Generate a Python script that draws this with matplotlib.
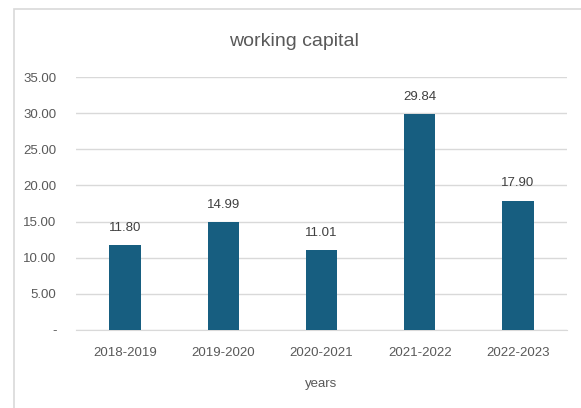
import matplotlib.pyplot as plt
from matplotlib.patches import Rectangle

years = ['2018-2019', '2019-2020', '2020-2021', '2021-2022', '2022-2023']
capital = [11.80, 14.99, 11.01, 29.84, 17.90]

plt.rcParams['font.family'] = ['Liberation Sans Narrow', 'Liberation Sans', 'DejaVu Sans']

fig = plt.figure(figsize=(5.81, 4.08), dpi=100)
ax = fig.add_axes([76 / 581, 1 - 330 / 408, (567 - 76) / 581, (330 - 77) / 408])

# chart frame, runs off the right and bottom edges like the screenshot
fig.patches.append(Rectangle((14 / 581, -0.1), 1.0, 1 - 9 / 408 + 0.1,
                             transform=fig.transFigure, fill=False,
                             edgecolor='#d9d9d9', linewidth=1.2))

x = range(len(years))
bars = ax.bar(x, capital, width=0.32, color='#175e80', zorder=3)
for b, v in zip(bars, capital):
    ax.annotate(f'{v:.2f}', (b.get_x() + b.get_width() / 2, v),
                xytext=(0, 8), textcoords='offset points',
                ha='center', va='bottom', fontsize=9.5, color='#404040')

ax.set_xlim(-0.5, 4.5)
ax.set_ylim(0, 35)
ax.set_yticks(range(0, 36, 5))
ax.set_yticklabels(['-' if t == 0 else f'{t:.2f}' for t in range(0, 36, 5)])
ax.set_xticks(list(x))
ax.set_xticklabels(years)
ax.tick_params(length=0, labelsize=9.5, labelcolor='#595959')
ax.tick_params(axis='x', pad=12)
ax.tick_params(axis='y', pad=14)
ax.grid(axis='y', color='#d9d9d9', linewidth=1, zorder=0)
for s in ['top', 'right', 'left']:
    ax.spines[s].set_visible(False)
ax.spines['bottom'].set_color('#d9d9d9')

fig.text(294 / 581, 1 - 42 / 408, 'working capital', fontsize=14,
         color='#595959', ha='center', va='center')
ax.set_xlabel('years', fontsize=9.5, color='#595959', labelpad=14)

fig.savefig('out.png', dpi=100)
